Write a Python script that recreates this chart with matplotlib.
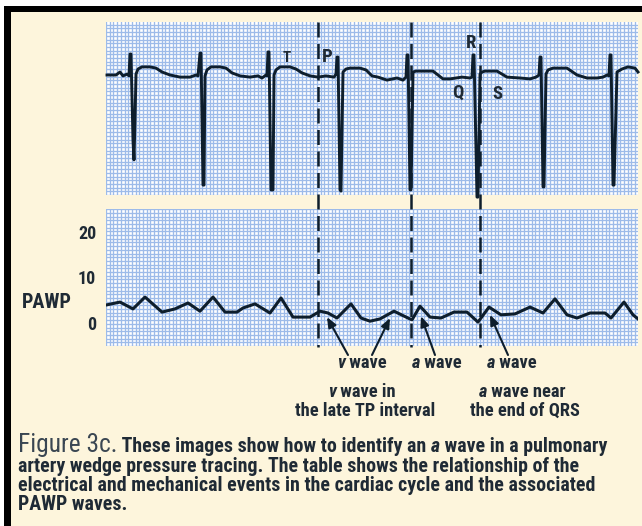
import matplotlib
matplotlib.use('Agg')
import matplotlib.pyplot as plt
import numpy as np
from matplotlib import transforms
from matplotlib.lines import Line2D
from matplotlib.patches import Rectangle

# ---------------- data ----------------
# ECG trace: time (ms) and amplitude (mV)
ecg_t = [10, 100, 140, 170, 210, 230, 240, 250, 270, 280, 290, 300, 320, 360, 440, 500, 560, 640, 740, 840, 900, 920,
         940, 950, 970, 980, 990, 1010, 1050, 1140, 1200, 1260, 1340, 1440, 1520, 1560, 1600, 1610,
         1620, 1630, 1650, 1670, 1680, 1700, 1740, 1840, 1900, 1960, 2040, 2120, 2200, 2280, 2300,
         2310, 2320, 2340, 2350, 2370, 2400, 2440, 2540, 2600, 2660, 2720, 2810, 2910, 2970, 3000,
         3010, 3020, 3040, 3050, 3070, 3100, 3270, 3370, 3440, 3500, 3560, 3640, 3660,
         3670, 3680, 3710, 3720, 3740, 3760, 3790, 3910, 3960, 4010, 4140, 4240, 4300, 4330,
         4340, 4350, 4370, 4380, 4400, 4420, 4470, 4610, 4710, 4810, 4910, 4970, 5010, 5030,
         5040, 5050, 5070, 5080, 5110, 5160, 5220, 5290, 5320]
ecg_mv = [0.00, 0.00, 0.10, -0.03, 0.03, -0.03, 0.70, 0.70, -2.17, -2.83, -1.50, 0.03, 0.20, 0.27, 0.27, 0.23, 0.10, 0.00, -0.07, -0.07, 0.00, -0.03,
          0.73, 0.73, -3.67, -3.67, -0.03, 0.17, 0.27, 0.27, 0.23, 0.07, -0.03, -0.07, -0.03, -0.10, 0.00, -0.03,
          0.77, 0.77, -3.83, -3.83, 0.00, 0.17, 0.27, 0.27, 0.20, 0.07, -0.03, -0.07, -0.03, -0.07, 0.03,
          0.60, 0.60, -3.83, -3.87, 0.10, 0.20, 0.23, 0.23, 0.17, -0.03, -0.07, -0.17, -0.10, -0.17, -0.07,
          0.67, 0.67, -3.83, -3.83, 0.10, 0.13, 0.13, -0.13, -0.13, -0.10, -0.07, -0.10, -0.07,
          0.67, 0.67, -4.07, -4.07, 0.03, 0.10, 0.13, 0.13, 0.03, -0.07, -0.10, -0.13, -0.07, 0.00,
          0.60, 0.60, -3.73, -3.73, 0.03, 0.17, 0.23, 0.23, 0.00, -0.10, -0.10, -0.07, 0.00, -0.03,
          0.67, 0.67, -3.67, -3.67, 0.10, 0.20, 0.27, 0.23, 0.10]

# PAWP trace: time (ms) and pressure (mmHg)
pawp_t = [10, 140, 270, 390, 560, 690, 820, 940, 1070, 1190, 1310, 1370, 1490, 1640, 1750, 1870, 2040, 2140,
          2220, 2310, 2450, 2550, 2640, 2740, 2880, 3020, 3060, 3140, 3240, 3350, 3480, 3610, 3720, 3830,
          3950, 4090, 4240, 4370, 4490, 4610, 4710, 4840, 4990, 5050, 5180, 5270, 5320]
pawp_mmhg = [4.0, 4.6, 3.1, 5.7, 2.4, 3.1, 4.4, 2.6, 5.7, 2.4, 2.4, 3.3, 4.2, 2.2, 5.5, 1.3, 1.3, 2.6,
             2.2, 1.1, 4.2, 1.1, 0.4, 0.9, 2.6, 1.1, 0.7, 3.7, 1.3, 1.1, 2.4, 2.4, 0.2, 3.5,
             1.8, 2.0, 3.5, 2.2, 5.3, 1.8, 1.1, 2.2, 2.2, 1.1, 4.6, 1.8, 0.9]

# dashed event markers (ms)
event_t = [2120, 3050, 3740]

# ECG wave labels
ecg_labels = ['T', 'P', 'R', 'Q', 'S']
ecg_label_t = [1810, 2210, 3650, 3520, 3910]
ecg_label_mv = [0.57, 0.60, 1.07, -0.60, -0.63]

# PAWP annotation targets
ann_target_t = [2210, 2840, 3150, 3840]
ann_target_mmhg = [1.3, 1.1, 1.5, 1.8]

pawp_yticks = [0, 10, 20]

caption_lines = [
    [("Figure 3c.", 'fig'), (" These images show how to identify an ", 'b'), ("a", 'bi'), (" wave in a pulmonary", 'b')],
    [("artery wedge pressure tracing. The table shows the relationship of the", 'b')],
    [("electrical and mechanical events in the cardiac cycle and the associated", 'b')],
    [("PAWP waves.", 'b')],
]

# ---------------- style ----------------
W, H = 642, 526
CREAM = '#fdf5dc'
INK = '#0e1e2c'
TXT = '#1f2a35'
GRIDC = '#9dbbe9'
GRID_PX = 3.7
FAM = ['Roboto Condensed', 'Open Sans Condensed', 'Liberation Sans Narrow', 'Arial Narrow', 'DejaVu Sans']
STRETCH = 'condensed'

fig = plt.figure(figsize=(W / 100, H / 100), dpi=100)
fig.patch.set_facecolor(CREAM)

def px_rect(l, t, r, b):
    return [l / W, 1 - b / H, (r - l) / W, (b - t) / H]

bg = fig.add_axes([0, 0, 1, 1])
bg.set_xlim(0, W)
bg.set_ylim(H, 0)
bg.axis('off')
bg.add_patch(Rectangle((0, 0), W, 6, color='white', lw=0))
bg.add_patch(Rectangle((0, 0), 4, H, color='white', lw=0))
bg.add_patch(Rectangle((4, 6), W, 6, color='black', lw=0))
bg.add_patch(Rectangle((4, 6), 7, H, color='black', lw=0))

ax_e = fig.add_axes(px_rect(106, 22, 638, 195))
ax_p = fig.add_axes(px_rect(106, 209, 638, 346))

XMAX = 5320
ECG_LIM = (-4.0, 1.767)
PAWP_LIM = (-5.05, 25.05)

def style_grid(ax, ylim, hpx):
    ax.set_xlim(0, XMAX)
    ax.set_ylim(*ylim)
    ax.set_facecolor('white')
    for s in ax.spines.values():
        s.set_visible(False)
    xs = XMAX / 532 * GRID_PX
    ys = (ylim[1] - ylim[0]) / hpx * GRID_PX
    ax.set_xticks(np.arange(0, XMAX, xs), minor=True)
    ax.set_yticks(np.arange(ylim[0], ylim[1], ys), minor=True)
    ax.grid(which='minor', color=GRIDC, lw=0.95, alpha=1)
    ax.tick_params(which='both', length=0)
    ax.set_xticks([])
    ax.set_axisbelow(True)

style_grid(ax_e, ECG_LIM, 173)
style_grid(ax_p, PAWP_LIM, 137)
ax_e.set_yticks([])

ax_e.plot(ecg_t, ecg_mv, color=INK, lw=2.1, solid_joinstyle='round', clip_on=False, zorder=3)
ax_p.plot(pawp_t, pawp_mmhg, color=INK, lw=2.2, solid_joinstyle='round', zorder=3)

TKW = dict(family=FAM, stretch=STRETCH, weight='bold', color=TXT)

ax_p.set_yticks(pawp_yticks)
ax_p.set_yticklabels([str(v) for v in pawp_yticks], fontsize=13, **TKW)
ax_p.tick_params(axis='y', which='major', length=0, pad=7)
ax_p.set_ylabel('PAWP', rotation=0, fontsize=14.5, ha='right', va='center', **TKW)
ax_p.yaxis.set_label_coords((72 - 106) / 532, (346 - 303) / 137)

# ECG labels
for lab, t, v in zip(ecg_labels, ecg_label_t, ecg_label_mv):
    fs = 11 if lab == 'T' else 13.5
    ax_e.text(t, v, lab, fontsize=fs, ha='center', va='center', zorder=4, **TKW)

# dashed event lines
blend = transforms.blended_transform_factory(ax_e.transData, fig.transFigure)
for t in event_t:
    fig.add_artist(Line2D([t, t], [1 - 22 / H, 1 - 347 / H], transform=blend, color=INK, lw=1.8,
                          dashes=(6, 2.6), zorder=10))

# annotation arrows
tails_px = [(348, 355), (372, 355), (435, 355), (508, 355)]
for (tx, ty), t, v in zip(tails_px, ann_target_t, ann_target_mmhg):
    ax_p.annotate('', xy=(t, v), xycoords='data', xytext=(tx, H - ty), textcoords='figure pixels',
                  arrowprops=dict(arrowstyle='-|>,head_length=0.6,head_width=0.25', lw=1.5, color=INK,
                                  shrinkA=0, shrinkB=0), annotation_clip=False)

fig.canvas.draw()
renderer = fig.canvas.get_renderer()

def style_kw(kind, size):
    if kind == 'fig':
        return dict(family=FAM, stretch=STRETCH, weight='normal', fontsize=size * 1.28, color='#3a4652')
    if kind == 'bi':
        return dict(family=FAM, stretch=STRETCH, weight='bold', style='italic', fontsize=size, color=TXT)
    return dict(family=FAM, stretch=STRETCH, weight='bold', fontsize=size, color=TXT)

def place(pieces, x0, ybase, size, align='left'):
    arts = []
    widths = []
    for txt, kind in pieces:
        a = fig.text(0, 1 - ybase / H, txt, va='baseline', ha='left', **style_kw(kind, size))
        widths.append(a.get_window_extent(renderer).width)
        arts.append(a)
    total = sum(widths)
    x = x0 - total / 2 if align == 'center' else x0
    for a, w in zip(arts, widths):
        a.set_x(x / W)
        x += w

# labels under PAWP
LS = 13.2
place([("v", 'bi'), (" wave", 'b')], 362, 368, LS, 'center')
place([("a", 'bi'), (" wave", 'b')], 437, 368, LS, 'center')
place([("a", 'bi'), (" wave", 'b')], 512, 368, LS, 'center')
place([("v", 'bi'), (" wave in", 'b')], 362, 397, LS, 'center')
place([("the late TP interval", 'b')], 365, 416, LS, 'center')
place([("a", 'bi'), (" wave near", 'b')], 522, 397, LS, 'center')
place([("the end of QRS", 'b')], 525, 416, LS, 'center')

# caption
for pieces, yb in zip(caption_lines, [452, 471.5, 491, 510]):
    place(pieces, 18, yb, 14.3)

fig.savefig('out.png', dpi=100, facecolor=CREAM)
